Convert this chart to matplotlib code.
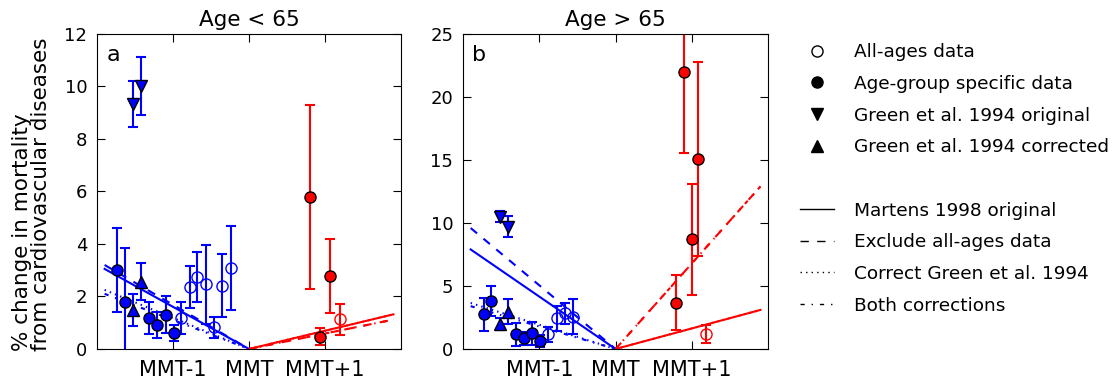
import matplotlib
matplotlib.use("Agg")
import matplotlib.pyplot as plt
from matplotlib.lines import Line2D

# x axis: degrees relative to the minimum mortality temperature
tick_pos = [-1, 0, 1]
tick_labels = ["MMT-1", "MMT", "MMT+1"]
line_x_cold = -1.9
line_x_heat = 1.9

# ---- panel a, age < 65 ----
a_grp_x = [-1.74, -1.63, -1.31, -1.21, -1.09, -0.99]
a_grp_y = [3.0, 1.8, 1.19, 0.91, 1.3, 0.6]
a_grp_err = [1.6, 2.06, 0.6, 0.5, 0.7, 0.3]

a_all_x = [-0.89, -0.78, -0.68, -0.57, -0.46, -0.35, -0.24]
a_all_y = [1.19, 2.37, 2.75, 2.46, 0.83, 2.41, 3.07]
a_all_err = [0.6, 0.8, 0.95, 1.5, 0.4, 1.2, 1.6]

a_orig_x = [-1.53, -1.42]
a_orig_y = [9.33, 10.02]
a_orig_err = [0.88, 1.1]

a_corr_x = [-1.53, -1.42]
a_corr_y = [1.49, 2.57]
a_corr_err = [0.6, 0.7]

a_heat_grp_x = [0.80, 0.94, 1.07]
a_heat_grp_y = [5.8, 0.47, 2.78]
a_heat_grp_err = [3.5, 0.32, 1.4]

a_heat_all_x = [1.20]
a_heat_all_y = [1.13]
a_heat_all_err = [0.58]

# regression lines: value at line_x_cold / line_x_heat
# order: Martens original, exclude all-ages, correct Green, both
a_cold_ends = [3.05, 3.2, 2.25, 2.1]
a_heat_ends = [1.32, 1.12, 1.32, 1.12]

# ---- panel b, age > 65 ----
b_grp_x = [-1.73, -1.63, -1.31, -1.20, -1.09, -0.99]
b_grp_y = [2.75, 3.81, 1.17, 0.85, 1.25, 0.63]
b_grp_err = [1.3, 1.2, 0.9, 0.5, 0.9, 0.5]

b_all_x = [-0.89, -0.77, -0.66, -0.56]
b_all_y = [1.17, 2.43, 2.82, 2.57]
b_all_err = [0.6, 1.0, 0.85, 1.4]

b_orig_x = [-1.51, -1.41]
b_orig_y = [10.5, 9.71]
b_orig_err = [0.45, 0.85]

b_corr_x = [-1.51, -1.41]
b_corr_y = [1.98, 2.96]
b_corr_err = [0.5, 1.0]

b_heat_grp_x = [0.79, 0.90, 1.00, 1.08]
b_heat_grp_y = [3.68, 21.96, 8.7, 15.08]
b_heat_grp_err = [2.2, 6.4, 4.4, 7.7]

b_heat_all_x = [1.18]
b_heat_all_y = [1.19]
b_heat_all_err = [0.7]

b_cold_ends = [7.9, 9.6, 3.65, 3.4]
b_heat_ends = [3.1, 12.9, 3.1, 12.9]

styles = ["-", "--", ":", "-."]

# old-style dash patterns
plt.rcParams["lines.scale_dashes"] = False
plt.rcParams["lines.dashed_pattern"] = [6, 6]
plt.rcParams["lines.dashdot_pattern"] = [3, 5, 1, 5]
plt.rcParams["lines.dotted_pattern"] = [1, 3]


def draw_panel(ax, d, ymax, yticks, letter, title):
    for ls, yc, yh in zip(styles, d["cold_ends"], d["heat_ends"]):
        ax.plot([line_x_cold, 0], [yc, 0], color="b", ls=ls, lw=1.5)
        ax.plot([0, line_x_heat], [0, yh], color="r", ls=ls, lw=1.5)

    eb = dict(capsize=3.5, elinewidth=1.5, capthick=1.5, ms=8)
    ax.errorbar(d["all"][0], d["all"][1], yerr=d["all"][2], fmt="o", color="b",
                mfc="none", mec="b", **eb)
    ax.errorbar(d["heat_all"][0], d["heat_all"][1], yerr=d["heat_all"][2], fmt="o",
                color="r", mfc="none", mec="r", **eb)
    ax.errorbar(d["grp"][0], d["grp"][1], yerr=d["grp"][2], fmt="o", color="b",
                mec="k", **eb)
    ax.errorbar(d["orig"][0], d["orig"][1], yerr=d["orig"][2], fmt="v", color="b",
                mec="k", **eb)
    ax.errorbar(d["corr"][0], d["corr"][1], yerr=d["corr"][2], fmt="^", color="b",
                mec="k", **eb)
    ax.errorbar(d["heat_grp"][0], d["heat_grp"][1], yerr=d["heat_grp"][2], fmt="o",
                color="r", mec="k", **eb)

    ax.set_xlim(-2, 2)
    ax.set_ylim(0, ymax)
    ax.set_xticks(tick_pos)
    ax.set_xticklabels(tick_labels)
    ax.set_yticks(yticks)
    ax.tick_params(direction="in", top=True, right=True, length=6)
    ax.tick_params(axis="x", labelsize=15, pad=8)
    ax.tick_params(axis="y", labelsize=13, pad=7)
    ax.set_title(title, fontsize=15.5, pad=6)
    ax.text(0.03, 0.965, letter, transform=ax.transAxes, fontsize=16,
            va="top", ha="left")


fig = plt.figure(figsize=(11.19, 3.8), dpi=100)
ax_a = fig.add_axes([0.0867, 0.0816, 0.2717, 0.829])
ax_b = fig.add_axes([0.4138, 0.0816, 0.2726, 0.829])

data_a = dict(grp=(a_grp_x, a_grp_y, a_grp_err), all=(a_all_x, a_all_y, a_all_err),
              orig=(a_orig_x, a_orig_y, a_orig_err), corr=(a_corr_x, a_corr_y, a_corr_err),
              heat_grp=(a_heat_grp_x, a_heat_grp_y, a_heat_grp_err),
              heat_all=(a_heat_all_x, a_heat_all_y, a_heat_all_err),
              cold_ends=a_cold_ends, heat_ends=a_heat_ends)
data_b = dict(grp=(b_grp_x, b_grp_y, b_grp_err), all=(b_all_x, b_all_y, b_all_err),
              orig=(b_orig_x, b_orig_y, b_orig_err), corr=(b_corr_x, b_corr_y, b_corr_err),
              heat_grp=(b_heat_grp_x, b_heat_grp_y, b_heat_grp_err),
              heat_all=(b_heat_all_x, b_heat_all_y, b_heat_all_err),
              cold_ends=b_cold_ends, heat_ends=b_heat_ends)

draw_panel(ax_a, data_a, 12, range(0, 13, 2), "a", "Age < 65")
draw_panel(ax_b, data_b, 25, range(0, 26, 5), "b", "Age > 65")
ax_a.set_ylabel("% change in mortality\nfrom cardiovascular diseases", fontsize=15.5,
                multialignment="left", linespacing=0.95)
ax_a.yaxis.set_label_coords(-0.15, 0.49)

# legend
handles = [
    Line2D([], [], ls="none", marker="o", mfc="white", mec="k", ms=8),
    Line2D([], [], ls="none", marker="o", color="k", ms=8),
    Line2D([], [], ls="none", marker="v", color="k", ms=8),
    Line2D([], [], ls="none", marker="^", color="k", ms=8),
    Line2D([], [], ls="none"),
    Line2D([], [], ls="-", color="k", lw=1),
    Line2D([], [], ls="--", color="k", lw=1),
    Line2D([], [], ls=":", color="k", lw=1),
    Line2D([], [], ls="-.", color="k", lw=1),
]
labels = ["All-ages data", "Age-group specific data", "Green et al. 1994 original",
          "Green et al. 1994 corrected", "", "Martens 1998 original",
          "Exclude all-ages data", "Correct Green et al. 1994", "Both corrections"]
fig.legend(handles, labels, loc="upper left", bbox_to_anchor=(0.700, 0.93),
           frameon=False, numpoints=1, handlelength=1.85, handletextpad=1.1,
           labelspacing=0.74, fontsize=13.3)

fig.savefig("out.png", dpi=100)
